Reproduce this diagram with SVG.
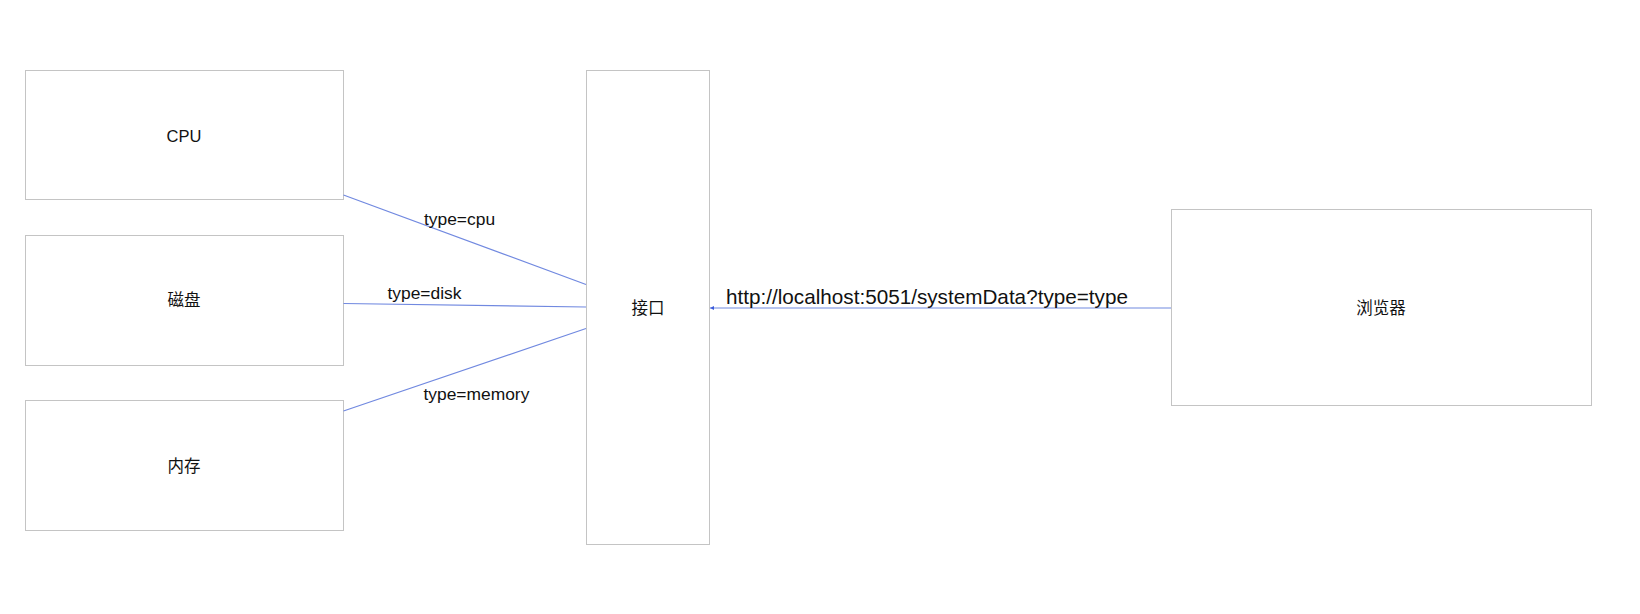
<svg xmlns="http://www.w3.org/2000/svg" width="1640" height="614" viewBox="0 0 1640 614">
<style>
.box{fill:#ffffff;stroke:#c4c4c4;stroke-width:1}
.lbl{font-family:"Liberation Sans","Noto Sans CJK SC",Arial,sans-serif;font-size:16.5px;fill:#111111;text-anchor:middle}
.el{font-family:"Liberation Sans",Arial,sans-serif;font-size:17.4px;fill:#111111}
.url{font-family:"Liberation Sans",Arial,sans-serif;font-size:20.7px;fill:#111111}
.conn{stroke:#7189e0;stroke-width:1.2;fill:none}
</style>
<defs>
<marker id="arr" viewBox="0 0 6 6" refX="6" refY="3" markerWidth="4" markerHeight="4" orient="auto" markerUnits="userSpaceOnUse">
<path d="M0,0 L6,3 L0,6 Z" fill="#3b5bdb"/>
</marker>
</defs>
<rect width="1640" height="614" fill="#ffffff"/>
<g id="node-cpu">
<rect class="box" x="25.5" y="70.5" width="318" height="129"/>
<text class="lbl" x="184" y="142">CPU</text>
</g>
<g id="node-disk">
<rect class="box" x="25.5" y="235.5" width="318" height="130"/>
<text class="lbl" x="184" y="306">磁盘</text>
</g>
<g id="node-memory">
<rect class="box" x="25.5" y="400.5" width="318" height="130"/>
<text class="lbl" x="184" y="472">内存</text>
</g>
<g id="node-api">
<rect class="box" x="586.5" y="70.5" width="123" height="474"/>
<text class="lbl" x="648" y="314">接口</text>
</g>
<g id="node-browser">
<rect class="box" x="1171.5" y="209.5" width="420" height="196"/>
<text class="lbl" x="1381" y="314">浏览器</text>
</g>
<g id="connectors">
<line class="conn" x1="343.5" y1="195" x2="586" y2="284.5"/>
<line class="conn" x1="343.5" y1="303.5" x2="586" y2="307"/>
<line class="conn" x1="343.5" y1="411" x2="586" y2="328.5"/>
<line class="conn" x1="1171" y1="308" x2="710" y2="308" marker-end="url(#arr)"/>
<text class="el" x="424" y="224.5">type=cpu</text>
<text class="el" x="387.5" y="298.5">type=disk</text>
<text class="el" x="423.5" y="399.5">type=memory</text>
<text class="url" x="726" y="304.3">http://localhost:5051/systemData?type=type</text>
</g>
</svg>
